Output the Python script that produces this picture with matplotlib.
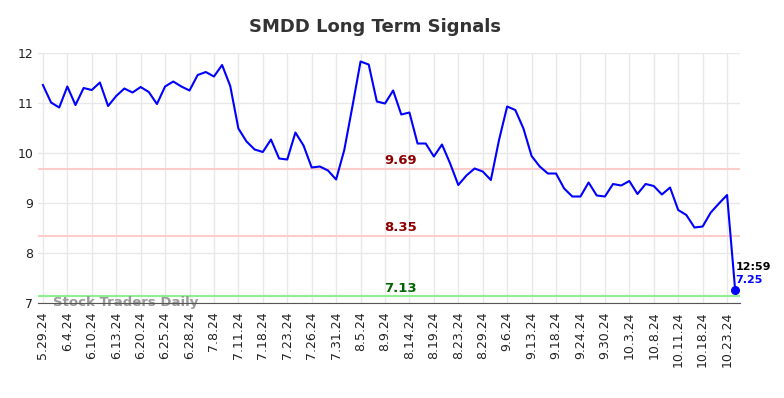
import matplotlib
matplotlib.use("Agg")
import matplotlib.pyplot as plt

# closing values, one per session
prices = [11.36, 11.01, 10.91, 11.33, 10.96, 11.30, 11.26, 11.41, 10.94, 11.14,
          11.29, 11.21, 11.32, 11.22, 10.98, 11.33, 11.43, 11.33, 11.25, 11.56,
          11.62, 11.53, 11.76, 11.34, 10.49, 10.23, 10.07, 10.02, 10.27, 9.89,
          9.87, 10.41, 10.15, 9.71, 9.73, 9.65, 9.47, 10.06, 10.93, 11.83,
          11.77, 11.03, 10.99, 11.25, 10.77, 10.81, 10.19, 10.19, 9.93, 10.17,
          9.79, 9.36, 9.55, 9.69, 9.63, 9.46, 10.26, 10.93, 10.86, 10.49,
          9.94, 9.73, 9.59, 9.59, 9.29, 9.13, 9.13, 9.41, 9.15, 9.13,
          9.38, 9.35, 9.44, 9.18, 9.38, 9.34, 9.17, 9.31, 8.86, 8.76,
          8.51, 8.53, 8.81, 8.99, 9.16, 7.25]

tick_labels = ["5.29.24", "6.4.24", "6.10.24", "6.13.24", "6.20.24", "6.25.24",
               "6.28.24", "7.8.24", "7.11.24", "7.18.24", "7.23.24", "7.26.24",
               "7.31.24", "8.5.24", "8.9.24", "8.14.24", "8.19.24", "8.23.24",
               "8.29.24", "9.6.24", "9.13.24", "9.18.24", "9.24.24", "9.30.24",
               "10.3.24", "10.8.24", "10.11.24", "10.18.24", "10.23.24"]
tick_step = 3

resistance = [9.69, 8.35]
support = [7.13]
last_time = "12:59"

fig = plt.figure(figsize=(7.84, 3.98), dpi=100)
ax = fig.add_axes([0.0485, 0.2387, 0.8955, 0.6281])

x = list(range(len(prices)))
ax.plot(x, prices, color="blue", lw=1.5, zorder=3)
ax.scatter([x[-1]], [prices[-1]], color="blue", s=30, zorder=4)

label_x = 43.9
for lvl in resistance:
    ax.axhline(lvl, color="#ffcccc", lw=1.5, zorder=1)
    ax.text(label_x, lvl + 0.03, f"{lvl:.2f}", color="#8b0000", fontsize=9.5,
            fontweight="bold", ha="center", va="bottom")
for lvl in support:
    ax.axhline(lvl, color="#90ee90", lw=1.5, zorder=1)
    ax.text(label_x, lvl + 0.03, f"{lvl:.2f}", color="#006400", fontsize=9.5,
            fontweight="bold", ha="center", va="bottom")

ax.text(x[-1], prices[-1] + 0.47, last_time, color="black", fontsize=8,
        fontweight="bold", ha="left", va="center")
ax.text(x[-1], prices[-1] + 0.21, f"{prices[-1]:.2f}", color="blue", fontsize=8,
        fontweight="bold", ha="left", va="center")

ax.text(1.2, 7.0, "Stock Traders Daily", color="#999999", fontsize=9.5,
        fontweight="bold", ha="left", va="center", zorder=2)

ax.set_xlim(-0.6, len(prices) - 0.4)
ax.set_ylim(7, 12)
ax.set_yticks([7, 8, 9, 10, 11, 12])
ax.set_xticks(x[::tick_step])
ax.set_xticklabels(tick_labels, rotation=90, fontsize=9)
ax.tick_params(axis="both", length=0, labelsize=9, colors="#222222")
ax.tick_params(axis="x", pad=6)
ax.grid(True, color="#e8e8e8", lw=1)
ax.set_axisbelow(True)

for side in ["top", "right", "left"]:
    ax.spines[side].set_visible(False)
ax.spines["bottom"].set_color("#555555")

fig.suptitle("SMDD Long Term Signals", x=0.478, y=0.955, fontsize=13,
             fontweight="bold", color="#333333")

fig.savefig("out.png", dpi=100)
